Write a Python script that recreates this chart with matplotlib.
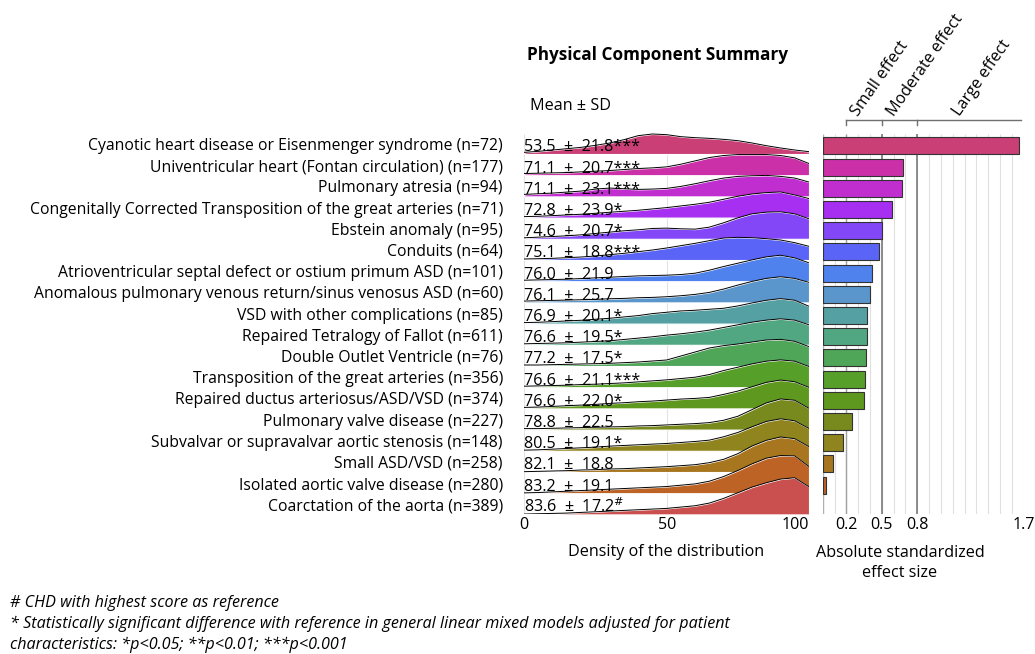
import matplotlib.pyplot as plt
import numpy as np

plt.rcParams['font.family'] = ['Open Sans', 'DejaVu Sans']

groups = ["Cyanotic heart disease or Eisenmenger syndrome (n=72)",
          "Univentricular heart (Fontan circulation) (n=177)",
          "Pulmonary atresia (n=94)",
          "Congenitally Corrected Transposition of the great arteries (n=71)",
          "Ebstein anomaly (n=95)",
          "Conduits (n=64)",
          "Atrioventricular septal defect or ostium primum ASD (n=101)",
          "Anomalous pulmonary venous return/sinus venosus ASD (n=60)",
          "VSD with other complications (n=85)",
          "Repaired Tetralogy of Fallot (n=611)",
          "Double Outlet Ventricle (n=76)",
          "Transposition of the great arteries (n=356)",
          "Repaired ductus arteriosus/ASD/VSD (n=374)",
          "Pulmonary valve disease (n=227)",
          "Subvalvar or supravalvar aortic stenosis (n=148)",
          "Small ASD/VSD (n=258)",
          "Isolated aortic valve disease (n=280)",
          "Coarctation of the aorta (n=389)"]
means = ["53.5", "71.1", "71.1", "72.8", "74.6", "75.1", "76.0", "76.1", "76.9",
         "76.6", "77.2", "76.6", "76.6", "78.8", "80.5", "82.1", "83.2", "83.6"]
sds = ["21.8", "20.7", "23.1", "23.9", "20.7", "18.8", "21.9", "25.7", "20.1",
       "19.5", "17.5", "21.1", "22.0", "22.5", "19.1", "18.8", "19.1", "17.2"]
sig = ["***", "***", "***", "*", "*", "***", "", "", "*",
       "*", "*", "***", "*", "", "*", "", "", "#"]
effect = [1.66, 0.676, 0.67, 0.583, 0.499, 0.48, 0.414, 0.40, 0.377,
          0.375, 0.37, 0.36, 0.35, 0.245, 0.174, 0.085, 0.025, 0.0]
colors = ["#C93F76", "#CC30A8", "#C02ECF", "#A62FF2", "#8447F7", "#5A64F6",
          "#4F82EC", "#5A96CC", "#55A0A2", "#52A783", "#4FA558", "#56A02A",
          "#5F981E", "#788A1E", "#8F841D", "#A8761E", "#BE6326", "#C9504E"]

# density at score 0,5,...,100 (relative units)
score = np.arange(0, 101, 5)
dens = [
    [5, 8, 12, 16, 20, 26, 33, 43, 55, 60, 58, 52, 49, 47, 44, 40, 33, 25, 18, 12, 7],
    [5, 6, 7, 8, 10, 12, 14, 17, 20, 22, 25, 33, 43, 53, 59, 62, 62, 62, 59, 52, 35],
    [6, 8, 10, 13, 16, 22, 25, 23, 21, 22, 24, 30, 38, 47, 55, 60, 62, 63, 60, 55, 43],
    [3, 4, 6, 8, 10, 13, 16, 19, 22, 26, 30, 35, 40, 46, 55, 64, 71, 75, 77, 68, 57],
    [3, 5, 7, 9, 12, 16, 20, 24, 27, 31, 32, 30, 29, 35, 48, 63, 75, 80, 81, 75, 60],
    [3, 4, 5, 7, 9, 12, 16, 20, 25, 30, 36, 43, 50, 58, 66, 68, 67, 64, 60, 52, 41],
    [3, 4, 5, 6, 8, 10, 12, 14, 16, 17, 18, 20, 24, 33, 44, 54, 64, 73, 78, 70, 55],
    [4, 5, 6, 7, 8, 9, 11, 12, 14, 15, 17, 20, 24, 30, 40, 52, 63, 72, 77, 72, 60],
    [3, 4, 6, 8, 10, 13, 16, 20, 24, 30, 34, 38, 40, 43, 46, 53, 62, 70, 75, 70, 52],
    [3, 4, 5, 6, 8, 10, 12, 16, 20, 24, 29, 33, 38, 44, 52, 60, 68, 74, 78, 74, 60],
    [3, 3, 4, 5, 6, 7, 8, 10, 12, 15, 18, 30, 42, 54, 61, 66, 72, 78, 80, 74, 58],
    [3, 4, 5, 6, 8, 9, 11, 13, 16, 19, 22, 26, 30, 38, 50, 60, 70, 78, 82, 78, 62],
    [3, 4, 6, 8, 10, 12, 15, 17, 20, 22, 25, 28, 30, 33, 42, 52, 65, 78, 85, 80, 63],
    [3, 3, 4, 5, 6, 7, 8, 9, 11, 12, 14, 16, 18, 21, 28, 40, 60, 80, 92, 88, 64],
    [2, 3, 5, 7, 9, 11, 14, 16, 18, 20, 22, 25, 28, 32, 42, 55, 72, 88, 96, 90, 67],
    [1, 2, 3, 4, 6, 7, 9, 10, 12, 14, 16, 19, 22, 28, 38, 55, 78, 95, 105, 100, 76],
    [1, 2, 4, 6, 8, 10, 12, 14, 16, 18, 20, 24, 28, 36, 50, 68, 88, 105, 113, 112, 80],
    [1, 2, 3, 4, 6, 8, 10, 12, 14, 16, 18, 22, 26, 34, 48, 65, 82, 95, 106, 110, 83],
]

W, H = 1035, 654
fig = plt.figure(figsize=(W / 100, H / 100), dpi=100)
row_px = 21.2
base_px = 514.4
nrow = len(groups)
top = 18.5
fs = 11.3

def axbox(x0, x1):
    return [x0 / W, 1 - base_px / H, (x1 - x0) / W, top * row_px / H]

# ridgeline panel
ax = fig.add_axes(axbox(524.3, 809))
ax.set_xlim(0, 100)
ax.set_ylim(0, top)
for s in ax.spines.values():
    s.set_visible(False)
ax.vlines([0, 50, 100], 0, 17.95, color="#e3e3e3", lw=0.8, zorder=0)
scale = 1 / 63.6
for i in range(nrow):
    b = nrow - 1 - i
    h = b + np.array(dens[i]) * scale
    ax.fill_between(score, b, h, color=colors[i], lw=0.8, edgecolor="white", zorder=2 + i)
    ax.plot(score, h, color="black", lw=0.7, zorder=2 + i)
    lab = means[i] + "  \u00b1  " + sds[i]
    if sig[i] == "#":
        lab = lab + r"$^{\#}$"
    else:
        lab = lab + sig[i]
    ax.text(0, b + 0.12, lab, fontsize=11.6, ha="left", va="baseline", zorder=50)
    ax.text(-7.5, b + 0.38, groups[i], fontsize=fs, ha="right", va="center")
ax.set_yticks([])
ax.set_xticks([0, 50, 100])
ax.tick_params(axis="x", length=0, pad=2, labelsize=11.6)
ax.get_xticklabels()[-1].set_horizontalalignment("right")

# effect size panel
ax2 = fig.add_axes(axbox(822.7, 1023.7))
ax2.set_xlim(0, 1.7)
ax2.set_ylim(0, top)
for s in ax2.spines.values():
    s.set_visible(False)
ax2.vlines(np.arange(0.1, 1.71, 0.1), 0, 17.95, color="#e0e0e0", lw=0.8, zorder=0)
ax2.vlines([0.2], 0, 17.95, color="#a0a0a0", lw=1.0, zorder=1)
ax2.vlines([0.5, 0.8], 0, 17.95, color="#7a7a7a", lw=1.2, zorder=1)
ax2.vlines([0], 0, 17.95, color="#b0b0b0", lw=1.0, zorder=1)
ypos = [nrow - 1 - i + 0.38 for i in range(nrow)]
keep = [i for i in range(nrow) if effect[i] > 0]
ax2.barh([ypos[i] for i in keep], [effect[i] for i in keep], height=0.8,
         color=[colors[i] for i in keep], edgecolor="#333333", lw=0.8, zorder=3)
ax2.set_yticks([])
ax2.set_xticks([0.2, 0.5, 0.8, 1.7])
ax2.set_xticklabels(["0.2", "0.5", "0.8", "1.7"])
ax2.tick_params(axis="x", length=0, pad=2, labelsize=11.6)

# effect brackets
yb = (base_px - 120) / row_px
ax2.plot([0.2, 1.68], [yb, yb], color="#707070", lw=1.0, clip_on=False)
for xb in [0.2, 0.5, 0.8]:
    ax2.plot([xb, xb], [yb, yb - 0.22], color="#707070", lw=1.0, clip_on=False)
for xl, txt in [(0.30, "Small effect"), (0.60, "Moderate effect"), (1.16, "Large effect")]:
    ax2.text(xl, yb + 0.15, txt, fontsize=11.6, rotation=55, rotation_mode="anchor",
             ha="left", va="baseline", clip_on=False)

# titles and labels
fig.text(527 / W, 1 - 55 / H, "Physical Component Summary", fontsize=12.3, fontweight="bold",
         ha="left", va="center")
fig.text(530 / W, 1 - 106 / H, "Mean \u00b1 SD", fontsize=11.6, ha="left", va="center")
fig.text(666 / W, 1 - 552 / H, "Density of the distribution", fontsize=11.6, ha="center", va="center")
fig.text(900 / W, 1 - 563 / H, "Absolute standardized\neffect size", fontsize=11.6,
         ha="center", va="center", linespacing=1.3)

notes = ["# CHD with highest score as reference",
         "* Statistically significant difference with reference in general linear mixed models adjusted for patient",
         "characteristics: *p<0.05; **p<0.01; ***p<0.001"]
for k, t in enumerate(notes):
    fig.text(10 / W, 1 - (603 + 21 * k) / H, t, fontsize=11.6, style="italic", ha="left", va="center")

fig.savefig("out.png", dpi=100, facecolor="white")
